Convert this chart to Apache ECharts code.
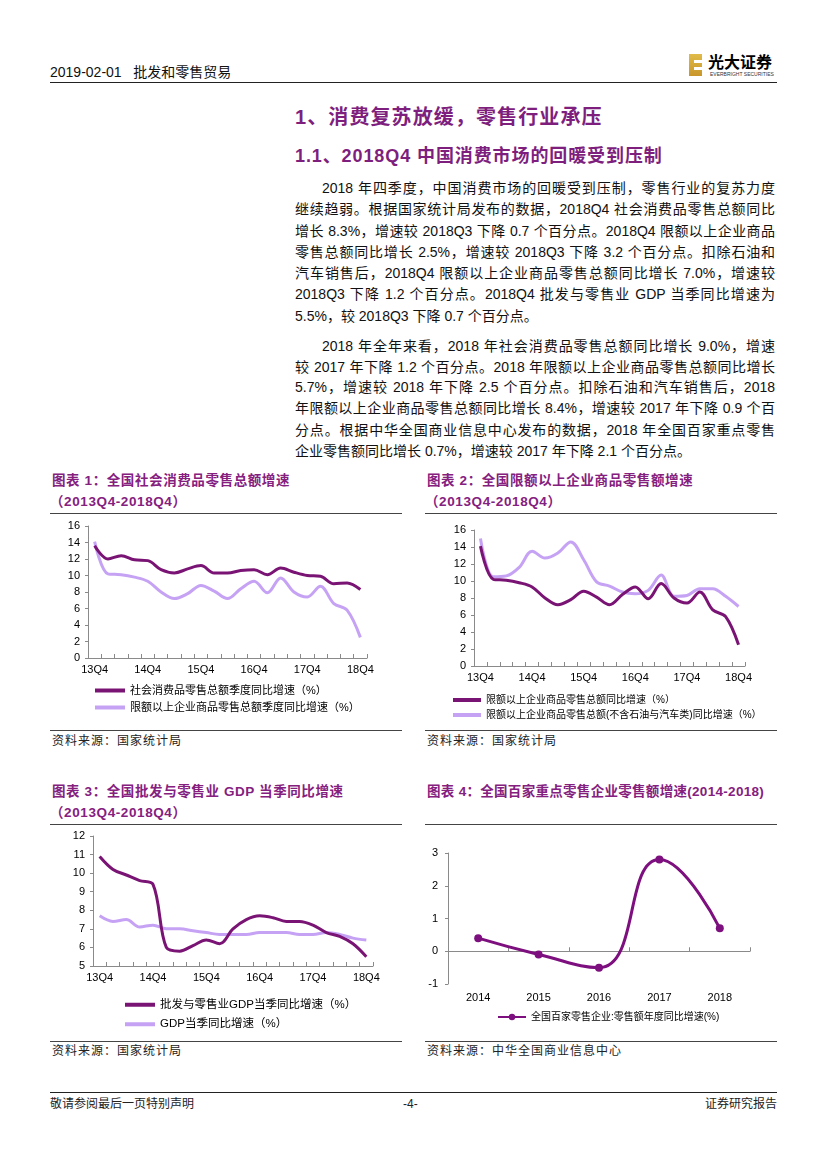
<!DOCTYPE html>
<html><head><meta charset="utf-8">
<script src="https://cdn.jsdelivr.net/npm/echarts@6/dist/echarts.min.js"></script>
<style>
html,body{margin:0;padding:0;background:#fff}
body{width:827px;height:1169px;position:relative;overflow:hidden;font-family:"Liberation Sans","Noto Sans CJK SC",sans-serif;color:#000}
.t{position:absolute;white-space:nowrap}
.rule{position:absolute;height:0;border-top:1.3px solid #444}
.pl{position:absolute;left:295px;width:480px;font-size:14px;line-height:20px;height:20px;text-align:justify;text-align-last:justify;white-space:nowrap;color:#111}
.pl.ind{left:322px;width:453px}
.pl.last{text-align-last:left}
.h{position:absolute;left:295px;color:#7e1f7e;font-weight:bold;white-space:nowrap}
.ct{position:absolute;color:#85207f;font-weight:bold;font-size:13.5px;letter-spacing:0.6px;white-space:nowrap;line-height:18px}
.src{position:absolute;font-size:12px;color:#222;letter-spacing:1px;white-space:nowrap;line-height:16px}
.chart{position:absolute}
</style></head>
<body>
<!-- header -->
<div class="t" style="left:50px;top:63px;font-size:14px;line-height:18px;color:#111">2019-02-01&nbsp;&nbsp;&nbsp;批发和零售贸易</div>
<div style="position:absolute;left:689px;top:54px;width:13px;height:22px;background:linear-gradient(180deg,#e0bb4a,#c9962a)"></div>
<div style="position:absolute;left:694px;top:60px;width:8px;height:3px;background:#fff"></div>
<div style="position:absolute;left:694px;top:67px;width:8px;height:3px;background:#fff"></div>
<div class="t" style="left:708px;top:54px;font-size:16px;line-height:18px;font-weight:bold;letter-spacing:0px">光大证券</div>
<div class="t" style="left:710px;top:72px;font-size:5px;line-height:5px;color:#333">EVERBRIGHT SECURITIES</div>
<div class="rule" style="left:50px;top:82px;width:727px;border-top:1.6px solid #222"></div>

<div class="h" style="top:105px;font-size:20px;line-height:24px;letter-spacing:1.1px">1、消费复苏放缓，零售行业承压</div>
<div class="h" style="top:145px;font-size:18px;line-height:22px;letter-spacing:0.9px">1.1、2018Q4 中国消费市场的回暖受到压制</div>

<div class="pl ind" style="top:178px">2018 年四季度，中国消费市场的回暖受到压制，零售行业的复苏力度</div>
<div class="pl" style="top:199px">继续趋弱。根据国家统计局发布的数据，2018Q4 社会消费品零售总额同比</div>
<div class="pl" style="top:221px">增长 8.3%，增速较 2018Q3 下降 0.7 个百分点。2018Q4 限额以上企业商品</div>
<div class="pl" style="top:242px">零售总额同比增长 2.5%，增速较 2018Q3 下降 3.2 个百分点。扣除石油和</div>
<div class="pl" style="top:263px">汽车销售后，2018Q4 限额以上企业商品零售总额同比增长 7.0%，增速较</div>
<div class="pl" style="top:284px">2018Q3 下降 1.2 个百分点。2018Q4 批发与零售业 GDP 当季同比增速为</div>
<div class="pl last" style="top:306px">5.5%，较 2018Q3 下降 0.7 个百分点。</div>

<div class="pl ind" style="top:336px">2018 年全年来看，2018 年社会消费品零售总额同比增长 9.0%，增速</div>
<div class="pl" style="top:357px">较 2017 年下降 1.2 个百分点。2018 年限额以上企业商品零售总额同比增长</div>
<div class="pl" style="top:377px">5.7%，增速较 2018 年下降 2.5 个百分点。扣除石油和汽车销售后，2018</div>
<div class="pl" style="top:398px">年限额以上企业商品零售总额同比增长 8.4%，增速较 2017 年下降 0.9 个百</div>
<div class="pl" style="top:420px">分点。根据中华全国商业信息中心发布的数据，2018 年全国百家重点零售</div>
<div class="pl last" style="top:441px">企业零售额同比增长 0.7%，增速较 2017 年下降 2.1 个百分点。</div>

<!-- chart titles & rules -->
<div class="ct" style="left:52px;top:472px">图表 1：全国社会消费品零售总额增速</div>
<div class="ct" style="left:50px;top:493px">（2013Q4-2018Q4）</div>
<div class="rule" style="left:50px;top:513px;width:352px"></div>
<div class="rule" style="left:50px;top:730px;width:352px"></div>
<div class="src" style="left:52px;top:733px">资料来源：国家统计局</div>

<div class="ct" style="left:427px;top:472px">图表 2：全国限额以上企业商品零售额增速</div>
<div class="ct" style="left:425px;top:493px">（2013Q4-2018Q4）</div>
<div class="rule" style="left:425px;top:513px;width:352px"></div>
<div class="rule" style="left:425px;top:730px;width:352px"></div>
<div class="src" style="left:427px;top:733px">资料来源：国家统计局</div>

<div class="ct" style="left:52px;top:783px">图表 3：全国批发与零售业 GDP 当季同比增速</div>
<div class="ct" style="left:50px;top:804px">（2013Q4-2018Q4）</div>
<div class="rule" style="left:50px;top:824px;width:352px"></div>
<div class="rule" style="left:50px;top:1041px;width:352px"></div>
<div class="src" style="left:52px;top:1043px">资料来源：国家统计局</div>

<div class="ct" style="left:427px;top:783px;letter-spacing:0.3px">图表 4：全国百家重点零售企业零售额增速(2014-2018)</div>
<div class="rule" style="left:425px;top:824px;width:352px"></div>
<div class="rule" style="left:425px;top:1041px;width:352px"></div>
<div class="src" style="left:427px;top:1043px">资料来源：中华全国商业信息中心</div>

<div id="c1" class="chart" style="left:40px;top:515px;width:370px;height:213px"></div>
<div id="c2" class="chart" style="left:415px;top:515px;width:412px;height:213px"></div>
<div id="c3" class="chart" style="left:40px;top:825px;width:370px;height:214px"></div>
<div id="c4" class="chart" style="left:415px;top:825px;width:412px;height:214px"></div>

<!-- footer -->
<div class="rule" style="left:50px;top:1092px;width:727px;border-top:1.4px solid #222"></div>
<div class="t" style="left:50px;top:1096px;font-size:12px;line-height:16px;color:#222">敬请参阅最后一页特别声明</div>
<div class="t" style="left:403px;top:1096px;font-size:12px;line-height:16px;color:#222">-4-</div>
<div class="t" style="left:705px;top:1096px;font-size:12px;line-height:16px;color:#222">证券研究报告</div>

<script>
// ---------- data ----------
const quarters = ['13Q4','14Q1','14Q2','14Q3','14Q4','15Q1','15Q2','15Q3','15Q4','16Q1','16Q2','16Q3','16Q4','17Q1','17Q2','17Q3','17Q4','18Q1','18Q2','18Q3','18Q4'];
const retailTotalYoY = [13.6,12.0,12.4,11.9,11.8,10.7,10.3,10.8,11.2,10.3,10.3,10.6,10.7,10.1,10.9,10.4,10.0,9.9,9.0,9.1,8.3];
const aboveQuotaYoY = [14.1,10.2,10.1,9.8,9.3,8.0,7.2,7.8,8.8,8.1,7.2,8.4,9.3,7.9,9.7,8.0,7.4,8.7,6.6,5.8,2.5];
const aboveQuotaExOilAutoYoY = [15.0,10.5,10.6,11.6,13.5,12.7,13.3,14.6,12.5,9.9,9.4,8.7,8.5,8.9,10.7,8.2,8.3,9.1,9.1,8.2,7.0];
const tradeGdpYoY = [10.9,10.2,9.9,9.6,9.4,6.0,5.8,6.1,6.4,6.2,7.0,7.5,7.7,7.6,7.4,7.4,7.2,6.8,6.6,6.2,5.5];
const gdpYoY = [7.7,7.4,7.5,7.1,7.2,7.0,7.0,6.9,6.8,6.7,6.7,6.7,6.8,6.8,6.8,6.7,6.7,6.8,6.7,6.5,6.4];
const years = ['2014','2015','2016','2017','2018'];
const top100RetailYoY = [0.4,-0.1,-0.5,2.8,0.7];

const names1 = ['社会消费品零售总额季度同比增速（%）','限额以上企业商品零售总额季度同比增速（%）'];
const names2 = ['限额以上企业商品零售总额同比增速（%）','限额以上企业商品零售总额(不含石油与汽车类)同比增速（%）'];
const names3 = ['批发与零售业GDP当季同比增速（%）','GDP当季同比增速（%）'];
const names4 = ['全国百家零售企业:零售额年度同比增速(%)'];

// ---------- styles ----------
const DARK = '#7a1474', LIGHT = '#c6a2f4', AX = '#8a8a8a';
const FONT = 'Liberation Sans, Noto Sans CJK SC, sans-serif';

function qChart(id, grid, ymin, ymax, yint, s1, s2, names, legend) {
  const ch = echarts.init(document.getElementById(id));
  ch.setOption({
    animation: false,
    grid: grid,
    xAxis: {
      type: 'category', data: quarters, boundaryGap: true,
      axisLine: {lineStyle: {color: AX, width: 1}},
      axisTick: {show: true, interval: 0, inside: true, length: 4, lineStyle: {color: AX}},
      axisLabel: {interval: 3, color: '#000', fontSize: 11, margin: 6, fontFamily: FONT}
    },
    yAxis: {
      type: 'value', min: ymin, max: ymax, interval: yint,
      axisLine: {show: true, lineStyle: {color: AX}},
      axisTick: {show: true, length: 3, lineStyle: {color: AX}},
      splitLine: {show: false},
      axisLabel: {color: '#000', fontSize: 11, margin: 8, fontFamily: FONT}
    },
    legend: Object.assign({
      orient: 'vertical', icon: 'rect', itemWidth: 30, itemHeight: 4,
      textStyle: {color: '#000', fontFamily: FONT, fontSize: 11}, itemGap: 6, padding: 0
    }, legend),
    series: [
      {name: names[0], type: 'line', data: s1, smooth: 0.35, showSymbol: false, lineStyle: {color: DARK, width: 3}, itemStyle: {color: DARK}, z: 3},
      {name: names[1], type: 'line', data: s2, smooth: 0.35, showSymbol: false, lineStyle: {color: LIGHT, width: 3}, itemStyle: {color: LIGHT}, z: 2}
    ]
  });
}

qChart('c1', {left: 48, top: 11, width: 279, height: 132}, 0, 16, 2,
  retailTotalYoY, aboveQuotaYoY, names1, {left: 55, top: 170});
qChart('c2', {left: 59, top: 15, width: 271, height: 136}, 0, 16, 2,
  aboveQuotaYoY, aboveQuotaExOilAutoYoY, names2,
  {left: 38, top: 180, itemWidth: 28, itemGap: 5, textStyle: {color: '#000', fontFamily: FONT, fontSize: 10}});
qChart('c3', {left: 53, top: 11, width: 280, height: 130}, 5, 12, 1,
  tradeGdpYoY, gdpYoY, names3,
  {left: 85, top: 174, itemGap: 8, textStyle: {color: '#000', fontFamily: FONT, fontSize: 11.5}});

// chart 4
const c4 = echarts.init(document.getElementById('c4'));
c4.setOption({
  animation: false,
  grid: {left: 33, top: 28, width: 302, height: 131},
  xAxis: [
    {type: 'category', data: years, boundaryGap: true,
     axisLine: {onZero: true, lineStyle: {color: AX}},
     axisTick: {show: true, interval: 0, inside: true, length: 4, lineStyle: {color: AX}},
     axisLabel: {show: false}},
    {type: 'category', data: years, boundaryGap: true, position: 'bottom',
     axisLine: {show: false, onZero: false}, axisTick: {show: false},
     axisLabel: {color: '#000', fontSize: 11, margin: 8, fontFamily: FONT}}
  ],
  yAxis: {type: 'value', min: -1, max: 3, interval: 1,
    axisLine: {show: true, lineStyle: {color: AX}},
    axisTick: {show: true, length: 3, lineStyle: {color: AX}},
    splitLine: {show: false},
    axisLabel: {color: '#000', fontSize: 11, margin: 10, fontFamily: FONT}},
  legend: {left: 82, top: 187, itemWidth: 28, itemHeight: 8, padding: 0,
    textStyle: {color: '#000', fontFamily: FONT, fontSize: 10}},
  series: [{name: names4[0], type: 'line', xAxisIndex: 0, data: top100RetailYoY, smooth: 0.5,
    symbol: 'circle', symbolSize: 8, lineStyle: {color: '#7d0f7e', width: 3}, itemStyle: {color: '#7d0f7e'}}]
});
</script>
</body></html>
